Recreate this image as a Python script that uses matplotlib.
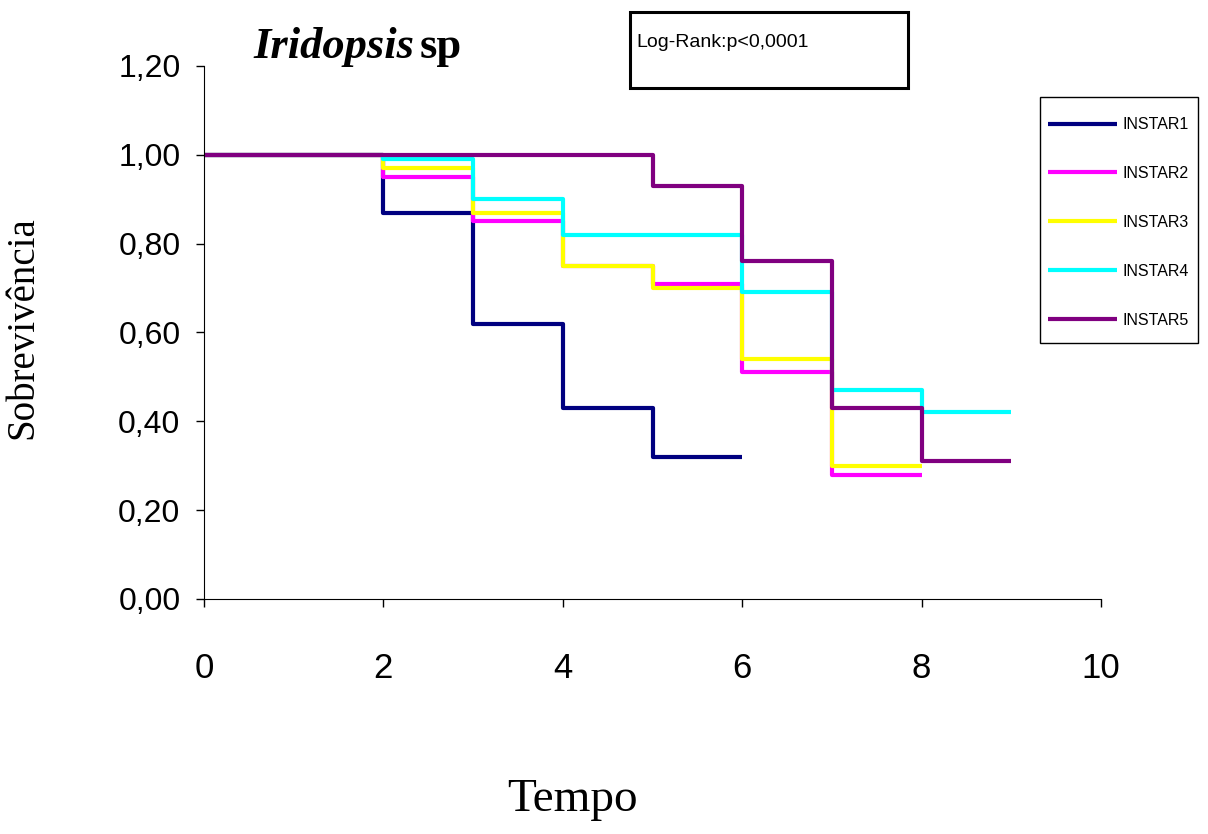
import matplotlib
matplotlib.use('Agg')
import matplotlib.pyplot as plt
from matplotlib.ticker import FuncFormatter

# survival steps
t1 = [0, 2, 3, 4, 5, 6]
s1 = [1.00, 0.87, 0.62, 0.43, 0.32, 0.32]
t2 = [0, 2, 3, 4, 5, 6, 7, 8]
s2 = [1.00, 0.95, 0.85, 0.75, 0.71, 0.51, 0.28, 0.28]
t3 = [0, 2, 3, 4, 5, 6, 7, 8]
s3 = [1.00, 0.97, 0.87, 0.75, 0.70, 0.54, 0.30, 0.30]
t4 = [0, 2, 3, 4, 6, 7, 8, 9]
s4 = [1.00, 0.99, 0.90, 0.82, 0.69, 0.47, 0.42, 0.42]
t5 = [0, 5, 6, 7, 8, 9]
s5 = [1.00, 0.93, 0.76, 0.43, 0.31, 0.31]
labels = ['INSTAR1', 'INSTAR2', 'INSTAR3', 'INSTAR4', 'INSTAR5']
colors = ['#000080', '#FF00FF', '#FFFF00', '#00FFFF', '#800080']
x_ticks = [0, 2, 4, 6, 8, 10]
y_ticks = [0.0, 0.2, 0.4, 0.6, 0.8, 1.0, 1.2]

sans = ['Liberation Sans', 'DejaVu Sans']
serif = ['Liberation Serif', 'DejaVu Serif']

fig = plt.figure(figsize=(12.08, 8.34), dpi=100)
ax = fig.add_axes([0.1689, 0.2818, 0.7425, 0.6391])

for t, s, c, lab in zip([t1, t2, t3, t4, t5], [s1, s2, s3, s4, s5], colors, labels):
    ax.step(t, s, where='post', color=c, lw=3, label=lab, solid_capstyle='butt')

ax.set_xlim(0, 10)
ax.set_ylim(0, 1.2)
ax.set_xticks(x_ticks)
ax.set_yticks(y_ticks)
ax.yaxis.set_major_formatter(FuncFormatter(lambda v, p: ('%.2f' % v).replace('.', ',')))
ax.spines['top'].set_visible(False)
ax.spines['right'].set_visible(False)
ax.tick_params(axis='y', direction='out', length=6, width=1, pad=11)
ax.tick_params(axis='x', direction='out', length=6, width=1, pad=32)
for lab in ax.get_xticklabels():
    lab.set_family(sans)
    lab.set_fontsize(25)
for lab in ax.get_yticklabels():
    lab.set_family(sans)
    lab.set_fontsize(23)

ax.set_ylabel('Sobrevivência', family=serif, fontsize=28)
ax.yaxis.set_label_coords(-0.181, 0.51)
fig.text(0.474, 0.041, 'Tempo', family=serif, fontsize=34, ha='center', va='center')

fig.text(0.21, 0.944, 'Iridopsis', family=serif, fontsize=32, style='italic',
         weight='bold', ha='left', va='center')
fig.text(0.347, 0.944, 'sp', family=serif, fontsize=32, weight='bold',
         ha='left', va='center')

# log-rank box
fig.text(0.5265, 0.949, 'Log-Rank:p<0,0001', family=sans, fontsize=14,
         ha='left', va='center')
box = plt.Rectangle((0.5215, 0.8945), 0.2302, 0.091, transform=fig.transFigure,
                    fill=False, edgecolor='black', lw=2.2)
fig.patches.append(box)

# legend without its own frame, box drawn separately
leg = ax.legend(loc='upper left', bbox_to_anchor=(0.8675, 0.8595),
                bbox_transform=fig.transFigure, prop={'family': sans, 'size': 11.5},
                frameon=False, handlelength=4.3, labelspacing=2.12, borderpad=0,
                handletextpad=0.35, borderaxespad=0)
leg_box = plt.Rectangle((0.8609, 0.5887), 0.1308, 0.295, transform=fig.transFigure,
                        fill=False, edgecolor='black', lw=1)
fig.patches.append(leg_box)

fig.savefig('out.png', dpi=100)
